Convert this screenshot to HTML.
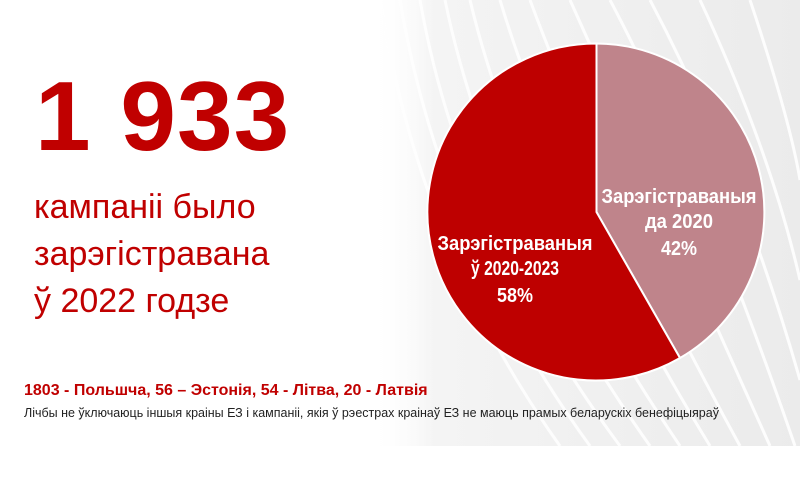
<!DOCTYPE html>
<html><head><meta charset="utf-8"><style>
body{margin:0;width:800px;height:503px;background:#fff;position:relative;overflow:hidden;font-family:"Liberation Sans",sans-serif}
.t{position:absolute;color:#c00000}
</style></head><body>
<svg width="800" height="503" style="position:absolute;left:0;top:0">
<defs><linearGradient id="g" x1="0" x2="1" y1="0" y2="0">
<stop offset="0" stop-color="#fff" stop-opacity="0"/><stop offset="0.15" stop-color="#f4f4f4"/><stop offset="1" stop-color="#ebebeb"/></linearGradient></defs>
<rect x="370" y="0" width="430" height="446" fill="url(#g)"/>
<g fill="none" stroke="#fff" stroke-width="3" opacity="0.9">
<path d="M380 0 Q420 250 560 446"/><path d="M400 0 Q440 240 590 446"/><path d="M420 0 Q460 230 620 446"/>
<path d="M445 0 Q490 220 650 446"/><path d="M470 0 Q520 210 680 446"/><path d="M500 0 Q560 200 710 446"/>
<path d="M530 0 Q600 190 740 446"/><path d="M570 0 Q650 180 770 446"/><path d="M610 0 Q700 170 795 446"/>
<path d="M650 0 Q740 170 800 380"/><path d="M700 0 Q770 150 800 280"/><path d="M750 0 Q790 120 800 180"/>
</g>
<path d="M596.5 212 L596.5 43.5 A168.5 168.5 0 0 1 680 358 Z" fill="#bf848b" stroke="#fff" stroke-width="2"/>
<path d="M596.5 212 L680 358 A168.5 168.5 0 1 1 596.5 43.5 Z" fill="#be0000" stroke="#fff" stroke-width="2"/>
<g fill="#fff" font-family="Liberation Sans Narrow, Liberation Sans, sans-serif" font-weight="bold" font-size="20" text-anchor="middle">
<text x="515" y="250" textLength="155" lengthAdjust="spacingAndGlyphs">Зарэгістраваныя</text><text x="515" y="275" textLength="88" lengthAdjust="spacingAndGlyphs">ў 2020-2023</text><text x="515" y="302" textLength="36" lengthAdjust="spacingAndGlyphs">58%</text>
<text x="679" y="203" textLength="155" lengthAdjust="spacingAndGlyphs">Зарэгістраваныя</text><text x="679" y="228" textLength="68" lengthAdjust="spacingAndGlyphs">да 2020</text><text x="679" y="255" textLength="36" lengthAdjust="spacingAndGlyphs">42%</text>
</g>
</svg>
<div class="t" style="left:35px;top:67px;font-size:98px;font-weight:bold;line-height:98px;letter-spacing:1px;transform:scaleX(1.02);transform-origin:left">1 933</div>
<div class="t" style="left:34px;top:184px;font-size:34px;line-height:47px">кампаніі было<br>зарэгістравана<br>ў 2022 годзе</div>
<div class="t" style="left:24px;top:382px;font-size:16px;font-weight:bold">1803 - Польшча, 56 – Эстонія, 54 - Літва, 20 - Латвія</div>
<div class="t" style="left:24px;top:406px;font-size:12.5px;color:#222">Лічбы не ўключаюць іншыя краіны ЕЗ і кампаніі, якія ў рэестрах краінаў ЕЗ не маюць прамых беларускіх бенефіцыяраў</div>
</body></html>
